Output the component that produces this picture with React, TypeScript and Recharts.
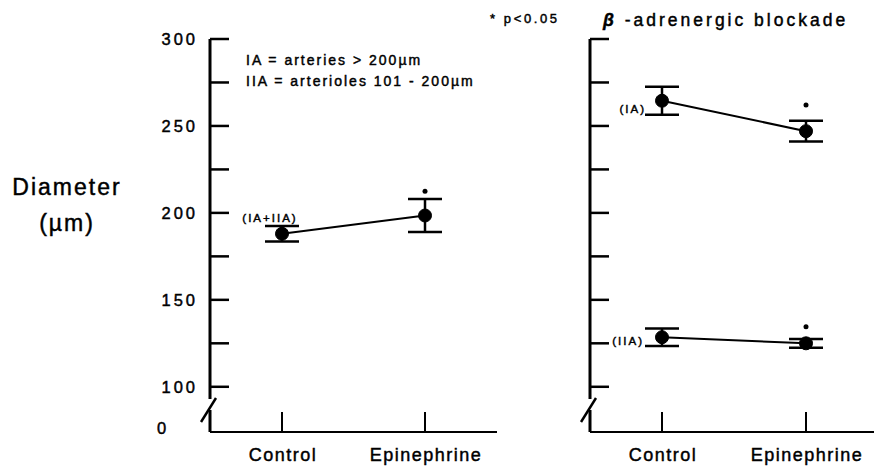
import React from 'react';
import { LineChart, Line, XAxis, YAxis, ErrorBar, LabelList } from 'recharts';

const categories = ['Control', 'Epinephrine'];

// left panel: arteries + arterioles pooled
const pooledMean = [188, 198.5];
const pooledErr = [4.5, 9.5];
const pooledStar = [null, 212.5];

// right panel: beta-adrenergic blockade
const iaMean = [264.5, 247];
const iaErr = [8, 6];
const iaStar = [null, 262];
const iiaMean = [128.5, 125];
const iiaErr = [5, 2.5];
const iiaStar = [null, 134.5];

// the axis is broken between 0 and 100, so the floor of the scale stands for 0
const AXIS_FLOOR = 74;
const yTicks = [AXIS_FLOOR, 100, 125, 150, 175, 200, 225, 250, 275, 300];
const yLabeled = [100, 150, 200, 250, 300];

const FONT = '"Liberation Sans", Arial, Helvetica, sans-serif';
// scanned print looks a bit heavier than the plain font
const INK = { fill: '#000', stroke: '#000', strokeWidth: 0.45 };

const leftData = categories.map((name, i) => ({
  name,
  mean: pooledMean[i],
  err: pooledErr[i],
  star: pooledStar[i],
}));

const rightData = categories.map((name, i) => ({
  name,
  ia: iaMean[i],
  iaErr: iaErr[i],
  iaStar: iaStar[i],
  iia: iiaMean[i],
  iiaErr: iiaErr[i],
  iiaStar: iiaStar[i],
}));

const YTick = ({ x, y, payload, showLabels }: any) => {
  const v = payload.value;
  if (v === AXIS_FLOOR) {
    return (
      <g>
        <rect x={x - 4} y={y - 33} width={8} height={11} fill="#fff" />
        <line x1={x - 9} y1={y - 10} x2={x + 6} y2={y - 34} stroke="#000" strokeWidth={2.5} />
        {showLabels && (
          <text x={x - 53} y={y - 4} dy="0.36em" fontSize={16.5} fontFamily={FONT} {...INK}>
            0
          </text>
        )}
      </g>
    );
  }
  return (
    <g>
      <line x1={x} y1={y} x2={x + 19} y2={y} stroke="#000" strokeWidth={2.5} />
      {showLabels && yLabeled.includes(v) && (
        <text
          x={x - 12}
          y={y}
          dy="0.36em"
          textAnchor="end"
          fontSize={16.5}
          letterSpacing={3}
          fontFamily={FONT}
          {...INK}
        >
          {v}
        </text>
      )}
    </g>
  );
};

const XTick = ({ x, y, payload }: any) => (
  <g>
    <line x1={x} y1={y} x2={x} y2={y - 20} stroke="#000" strokeWidth={2} />
    <text x={x + 1} y={y + 29} textAnchor="middle" fontSize={18} letterSpacing={1.5} fontFamily={FONT} {...INK}>
      {payload.value}
    </text>
  </g>
);

const groupLabel = (text: string, dx: number, dy: number, anchor: string) => (props: any) => {
  if (props.index !== 0) return null;
  return (
    <text
      x={props.x + dx}
      y={props.y + dy}
      textAnchor={anchor}
      dy="0.36em"
      fontSize={11.5}
      letterSpacing={2}
      fontFamily={FONT}
      {...INK}
    >
      {text}
    </text>
  );
};

const meanDot = { r: 6.5, fill: '#000', stroke: '#000', strokeWidth: 1 };
const starDot = { r: 2.5, fill: '#000', stroke: 'none' };

const App: React.FC = () => {
  return (
    <div style={{ position: 'absolute', left: 0, top: 0, width: 874, height: 467, background: '#fff' }}>
      <div style={{ position: 'absolute', left: 0, top: 0 }}>
        <LineChart width={500} height={467} data={leftData} margin={{ top: 39, right: 3, bottom: 0, left: 0 }}>
          <XAxis
            dataKey="name"
            height={35}
            padding={{ left: 72, right: 72 }}
            interval={0}
            tickLine={false}
            tickSize={0}
            tickMargin={0}
            axisLine={{ stroke: '#000', strokeWidth: 2 }}
            tick={(p: any) => <XTick {...p} />}
          />
          <YAxis
            type="number"
            width={210}
            domain={[AXIS_FLOOR, 300]}
            ticks={yTicks}
            interval={0}
            tickLine={false}
            tickSize={0}
            tickMargin={0}
            axisLine={{ stroke: '#000', strokeWidth: 3 }}
            tick={(p: any) => <YTick {...p} showLabels />}
          />
          <Line
            dataKey="mean"
            stroke="#000"
            strokeWidth={2}
            dot={meanDot}
            activeDot={false}
            isAnimationActive={false}
          >
            <ErrorBar dataKey="err" width={17} strokeWidth={2.5} stroke="#000" direction="y" />
            <LabelList content={groupLabel('(IA+IIA)', -12, -16, 'middle')} />
          </Line>
          <Line dataKey="star" stroke="none" dot={starDot} activeDot={false} isAnimationActive={false} />
        </LineChart>
      </div>

      <div style={{ position: 'absolute', left: 500, top: 0 }}>
        <LineChart width={374} height={467} data={rightData} margin={{ top: 39, right: 0, bottom: 0, left: 0 }}>
          <XAxis
            dataKey="name"
            height={35}
            padding={{ left: 72, right: 68 }}
            interval={0}
            tickLine={false}
            tickSize={0}
            tickMargin={0}
            axisLine={{ stroke: '#000', strokeWidth: 2 }}
            tick={(p: any) => <XTick {...p} />}
          />
          <YAxis
            type="number"
            width={90}
            domain={[AXIS_FLOOR, 300]}
            ticks={yTicks}
            interval={0}
            tickLine={false}
            tickSize={0}
            tickMargin={0}
            axisLine={{ stroke: '#000', strokeWidth: 3 }}
            tick={(p: any) => <YTick {...p} showLabels={false} />}
          />
          <Line dataKey="ia" stroke="#000" strokeWidth={2} dot={meanDot} activeDot={false} isAnimationActive={false}>
            <ErrorBar dataKey="iaErr" width={17} strokeWidth={2.5} stroke="#000" direction="y" />
            <LabelList content={groupLabel('(IA)', -16, 8, 'end')} />
          </Line>
          <Line dataKey="iia" stroke="#000" strokeWidth={2} dot={meanDot} activeDot={false} isAnimationActive={false}>
            <ErrorBar dataKey="iiaErr" width={17} strokeWidth={2.5} stroke="#000" direction="y" />
            <LabelList content={groupLabel('(IIA)', -18, 4, 'end')} />
          </Line>
          <Line dataKey="iaStar" stroke="none" dot={starDot} activeDot={false} isAnimationActive={false} />
          <Line dataKey="iiaStar" stroke="none" dot={starDot} activeDot={false} isAnimationActive={false} />
        </LineChart>
      </div>

      <svg
        width={874}
        height={467}
        style={{ position: 'absolute', left: 0, top: 0, pointerEvents: 'none' }}
        fontFamily={FONT}
        {...INK}
      >
        <text x={67} y={195} textAnchor="middle" fontSize={23} letterSpacing={2}>
          Diameter
        </text>
        <text x={67} y={231} textAnchor="middle" fontSize={23} letterSpacing={2}>
          (µm)
        </text>
        <text x={246} y={65} fontSize={14} letterSpacing={2}>
          IA = arteries &gt; 200µm
        </text>
        <text x={246} y={86} fontSize={14} letterSpacing={2}>
          IIA = arterioles 101 - 200µm
        </text>
        <text x={490} y={23} fontSize={13} letterSpacing={2.6}>
          * p&lt;0.05
        </text>
        <text x={603} y={26} fontSize={17.5} letterSpacing={3}>
          <tspan fontStyle="italic" fontWeight="bold">β</tspan> -adrenergic blockade
        </text>
      </svg>
    </div>
  );
};

export default App;
